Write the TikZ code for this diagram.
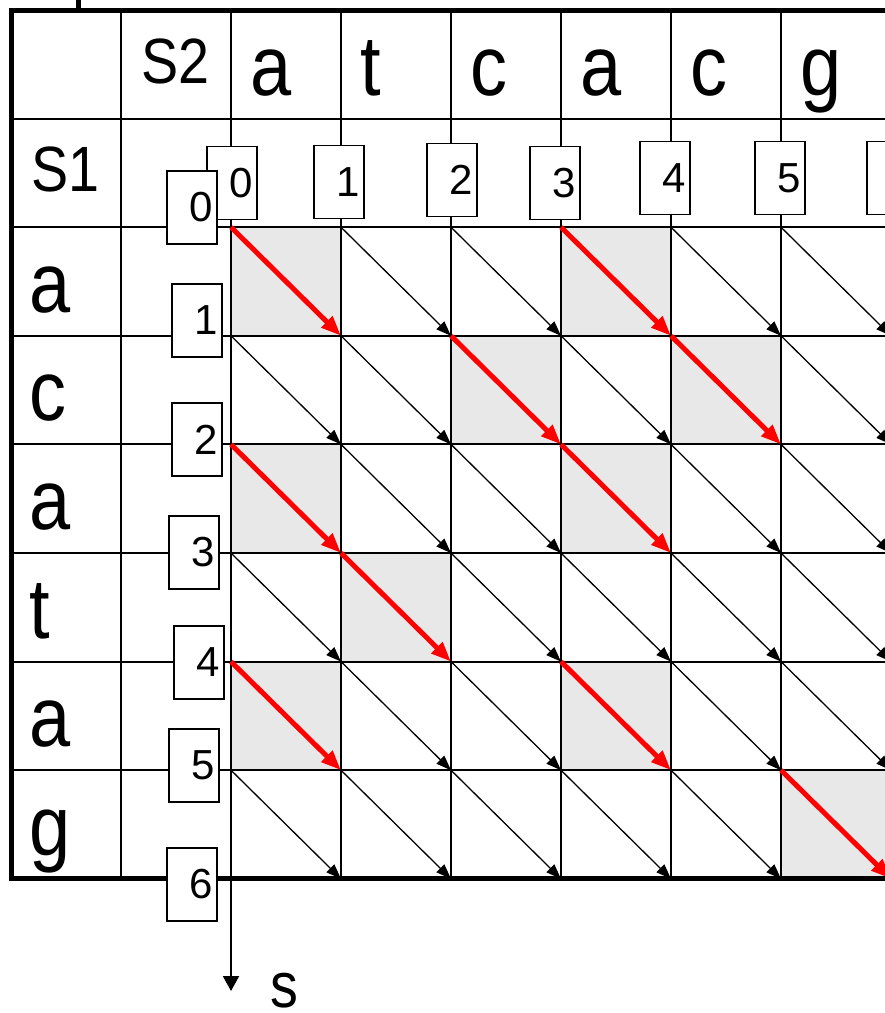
\documentclass[tikz,border=0pt]{standalone}
\usepackage{fontspec}
\setmainfont{Liberation Sans}
\newfontfamily\labelfont[FakeStretch=0.87]{Liberation Sans}
\usepackage{tikz}
\usetikzlibrary{arrows.meta}
\definecolor{hitRed}{HTML}{FF0000}
\definecolor{cellGray}{HTML}{E8E8E8}

\begin{document}
\begin{tikzpicture}[
    x=1pt,y=-1pt,
    grid/.style={line width=2pt},
    border/.style={line width=5pt,line join=miter},
    miss/.style={line width=1.3pt,-{Triangle[length=15pt,width=11pt]}},
    hit/.style={draw=hitRed,line width=5pt,-{Triangle[length=20pt,width=15pt]}},
    numbox/.style={draw,fill=white,line width=1.5pt,minimum height=73pt,
      text width=41pt,inner xsep=4.5pt,align=right,font=\fontsize{42}{42}\selectfont},
    big/.style={anchor=base west,inner sep=0pt,font=\labelfont\fontsize{85}{85}\selectfont},
    mid/.style={anchor=base west,inner sep=0pt,font=\labelfont\fontsize{64}{64}\selectfont}
  ]
  \useasboundingbox (0,0) rectangle (885,1013);
  \clip (0,0) rectangle (885,1013);
  \foreach \i in {0,...,8}
    \foreach \j in {0,...,8}
      \coordinate (p-\i-\j) at ({11+110*\i},{10+108.6*\j});

  \foreach \a [count=\i from 2] in {a,t,c,a,c,g}
    \foreach \b [count=\j from 2] in {a,c,a,t,a,g} {
      \pgfmathtruncatemacro\ii{\i+1}
      \pgfmathtruncatemacro\jj{\j+1}
      \ifx\a\b \fill[cellGray] (p-\i-\j) rectangle (p-\ii-\jj); \fi
    }
  \foreach \k in {1,...,7} {
    \draw[grid] (p-0-\k) -- (p-8-\k);
    \draw[grid] (p-\k-0) -- (p-\k-8);
  }
  \foreach \a [count=\i from 2] in {a,t,c,a,c,g}
    \foreach \b [count=\j from 2] in {a,c,a,t,a,g} {
      \pgfmathtruncatemacro\ii{\i+1}
      \pgfmathtruncatemacro\jj{\j+1}
      \ifx\a\b\def\cellstyle{hit}\else\def\cellstyle{miss}\fi
      \draw[\cellstyle] (p-\i-\j) -- (p-\ii-\jj);
    }
  \draw[border] (p-8-0) -- (p-0-0) -- (p-0-8) -- (p-8-8);
  \coordinate (tick) at (78,0);
  \draw[border] (tick) -- (tick |- p-0-0);

  \foreach \a [count=\i from 2] in {a,t,c,a,c,g}
    \node[big] (s2-\i) at ([shift={(19,85)}]p-\i-0) {\a};
  \foreach \b [count=\j from 2] in {a,c,a,t,a,g}
    \node[big] (s1-\j) at ([shift={(18,85)}]p-0-\j) {\b};
  \node[mid] (s2) at ([shift={(20,73)}]p-1-0) {S2};
  \node[mid] (s1) at ([shift={(20,73)}]p-0-1) {S1};

  \foreach \n/\x/\y in {0/232/183,1/339/182,2/452/180,3/555/183,4/665/178,5/780/178,6/892/178}
    \node[numbox] (col-\n) at (\x,\y) {\n};
  \foreach \n/\x/\y in {0/192/207.5,1/197/320.5,2/197/439.5,3/194/552.5,4/199/662.5,5/194/765.5,6/192/884.5}
    \node[numbox] (row-\n) at (\x,\y) {\n};

  \coordinate (s-end) at (231,991);
  \draw[line width=2pt,-{Triangle[length=15pt,width=16pt]}] (p-2-8) -- (s-end);
  \node[mid] (s-label) at (270,1007) {s};
\end{tikzpicture}
\end{document}
